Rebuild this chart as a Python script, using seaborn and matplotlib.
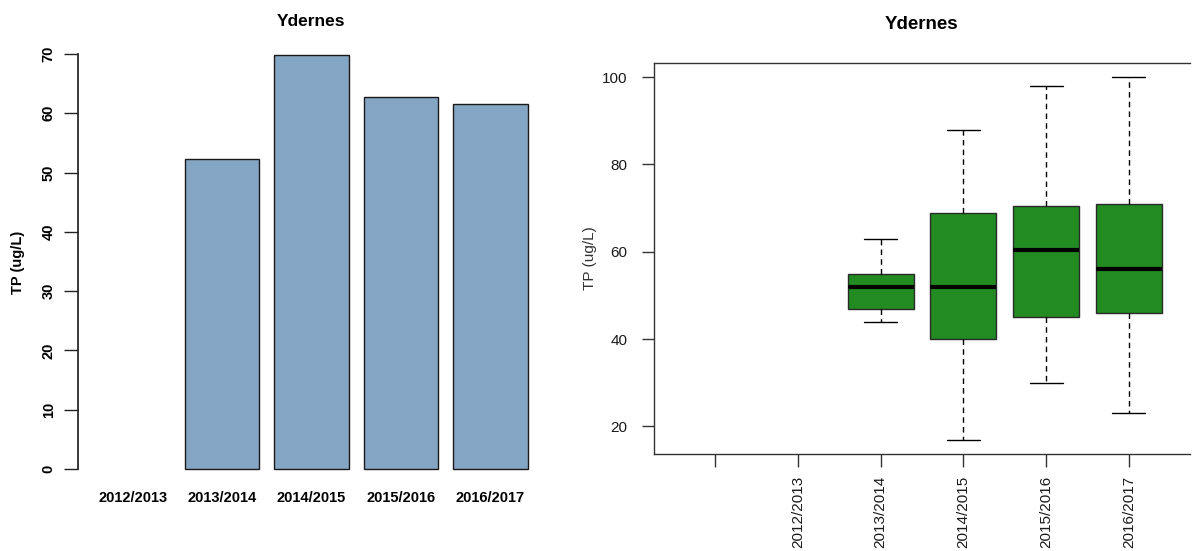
import pandas as pd
import numpy as np
import matplotlib
matplotlib.use("Agg")
import matplotlib.pyplot as plt
import seaborn as sns

# mean TP per season (bar chart)
bar_seasons = ["2012/2013", "2013/2014", "2014/2015", "2015/2016", "2016/2017"]
bar_present = ["2013/2014", "2014/2015", "2015/2016", "2016/2017"]
bar_tp = [52.2, 69.8, 62.7, 61.5]

# box plot: min, lower hinge, median, upper hinge, max per season
box_order = ["", "2012/2013", "2013/2014", "2014/2015", "2015/2016", "2016/2017"]
tp_1314 = [44, 47, 52, 55, 63]
tp_1415 = [17, 40, 52, 69, 88]
tp_1516 = [30, 45, 60.5, 70.5, 98]
tp_1617 = [23, 46, 56, 71, 100]

sns.set_theme(style="ticks")
plt.rcParams['font.family'] = ['Liberation Sans', 'DejaVu Sans']
plt.rcParams['text.color'] = 'black'
plt.rcParams['axes.labelcolor'] = 'black'
plt.rcParams['xtick.color'] = 'black'
plt.rcParams['ytick.color'] = 'black'

W, H = 1192, 551
fig = plt.figure(figsize=(W / 100, H / 100), dpi=100)

# ---- left: bar chart ----
ax1 = fig.add_axes([78 / W, (H - 485.5) / H, (545 - 78) / W, (485.5 - 38.6) / H])
df_bar = pd.DataFrame({"season": bar_present, "tp": bar_tp})
sns.barplot(data=df_bar, x="season", y="tp", order=bar_seasons, ax=ax1,
            color="#85A5C4", saturation=1, width=0.833,
            edgecolor="#1a1a1a", linewidth=1, errorbar=None)
ax1.set_xlim(-0.61, 4.61)
ax1.set_ylim(-2.79, 72.59)
ax1.set_yticks(np.arange(0, 80, 10))
ax1.set_yticklabels([str(v) for v in range(0, 80, 10)], rotation=90, va="center",
                    fontweight="bold", fontsize=10.5)
ax1.set_xticks(range(len(bar_seasons)))
ax1.set_xticklabels(bar_seasons, fontweight="bold", fontsize=10.5)
ax1.tick_params(axis="x", length=0, pad=4)
ax1.tick_params(axis="y", length=10, width=1, color="#222222", pad=6)
for s in ["top", "right", "bottom"]:
    ax1.spines[s].set_visible(False)
ax1.spines["left"].set_bounds(0, 70)
ax1.spines["left"].set_color("#222222")
ax1.set_xlabel("")
ax1.set_ylabel("TP (ug/L)", fontweight="bold", fontsize=10.5)
ax1.yaxis.set_label_coords(-53 / 467, 0.5)
ax1.set_title("Ydernes", fontweight="bold", fontsize=12.5, pad=9)

# ---- right: box plot ----
ax2 = fig.add_axes([654 / W, (H - 454) / H, (1190 - 654) / W, (454 - 62.7) / H])
df_box = pd.DataFrame({
    "season": ["2013/2014"] * len(tp_1314) + ["2014/2015"] * len(tp_1415)
              + ["2015/2016"] * len(tp_1516) + ["2016/2017"] * len(tp_1617),
    "tp": tp_1314 + tp_1415 + tp_1516 + tp_1617,
})
sns.boxplot(data=df_box, x="season", y="tp", order=box_order, ax=ax2,
            color="#228B22", saturation=1, width=0.8, linecolor="#2a2a2a",
            linewidth=1, showfliers=False, capwidths=0.4,
            whiskerprops=dict(color="black", linestyle=(0, (4, 3))),
            capprops=dict(color="black"),
            medianprops=dict(color="black", linewidth=3))
ax2.set_xlim(-0.74, 5.74)
ax2.set_ylim(13.68, 103.32)
ax2.set_yticks([20, 40, 60, 80, 100])
ax2.set_yticklabels(["20", "40", "60", "80", "100"], fontsize=11)
ax2.set_xticks(range(len(box_order)))
ax2.set_xticklabels(box_order, rotation=90, fontsize=11)
ax2.tick_params(axis="both", length=9, width=1, color="#333333", labelcolor="#1a1a1a")
ax2.tick_params(axis="y", pad=10)
ax2.tick_params(axis="x", pad=7)
for s in ["top", "left", "bottom"]:
    ax2.spines[s].set_color("#333333")
    ax2.spines[s].set_linewidth(1)
ax2.spines["right"].set_visible(False)
ax2.set_xlabel("")
ax2.set_ylabel("TP (ug/L)", fontsize=11, color="#333333")
ax2.yaxis.set_label_coords(-57 / 536, 0.5)
ax2.set_title("Ydernes", fontweight="bold", fontsize=13.5, pad=24)

fig.savefig("out.png", dpi=100)
